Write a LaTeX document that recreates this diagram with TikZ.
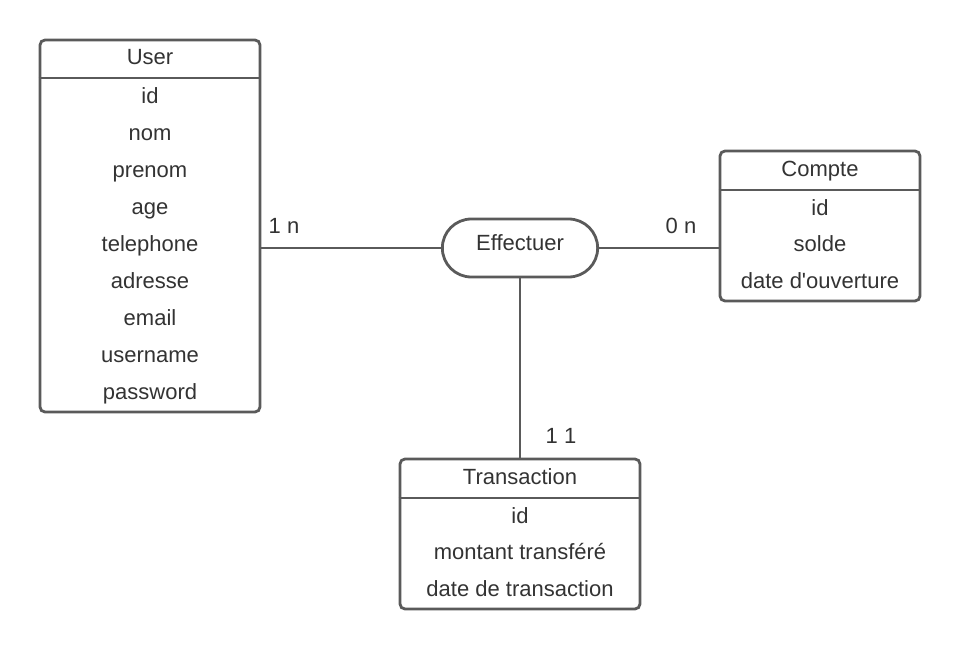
\documentclass[tikz,border=0pt]{standalone}
\usepackage{fontspec}
\setmainfont{Liberation Sans}
\usetikzlibrary{shapes.misc, positioning}
\definecolor{linegray}{HTML}{5A5A5A}
\definecolor{textgray}{HTML}{333333}
\tikzstyle{entity} = [rectangle, rounded corners=5pt, draw=linegray, line width=2.8pt, fill=white]
\tikzstyle{relation} = [rounded rectangle, draw=linegray, line width=2.8pt, fill=white, minimum width=162pt, minimum height=58pt, text=textgray, font=\fontsize{22}{26}\selectfont, text height=15pt, text depth=10pt]
\tikzstyle{attr} = [text=textgray, font=\fontsize{22}{26}\selectfont, inner sep=0pt, text height=16pt, text depth=0pt]
\tikzstyle{link} = [line width=2.8pt, draw=linegray]

\begin{document}
\begin{tikzpicture}[x=1pt, y=-1pt]
\useasboundingbox (0,0) rectangle (960,650);

% links first, boxes on top
\node (eff) [relation] at (520,248) {Effectuer};
\node (user) [entity, minimum width=220pt, minimum height=372pt] at (150,226) {};
\node (compte) [entity, minimum width=200pt, minimum height=150pt] at (820,226) {};
\node (trans) [entity, minimum width=240pt, minimum height=150pt] at (520,534) {};

\draw [link] (user.east |- eff) -- (eff.west);
\draw [link] (eff.east) -- (compte.west |- eff);
\draw [link] (eff.south) -- (trans.north);

% User
\node (user-title) [attr] at (150,57) {User};
\draw [link] (user.west |- 0,78) -- (user.east |- 0,78);
\foreach \name [count=\i] in {id,nom,prenom,age,telephone,adresse,email,username,password}
  \node (user-\i) [attr] at (150,{59.1+36.9*\i}) {\name};

% Compte
\node (compte-title) [attr] at (820,168) {Compte};
\draw [link] (compte.west |- 0,190) -- (compte.east |- 0,190);
\foreach \name [count=\i] in {id,solde,date d\textquotesingle ouverture}
  \node (compte-\i) [attr] at (820,{170.5+36.5*\i}) {\name};

% Transaction
\node (trans-title) [attr] at (520,476) {Transaction};
\draw [link] (trans.west |- 0,498) -- (trans.east |- 0,498);
\foreach \name [count=\i] in {id,montant transféré,date de transaction}
  \node (trans-\i) [attr] at (520,{478.5+36.5*\i}) {\name};

% cardinalities
\node (card-user) [attr] at (284,225) {1 n};
\node (card-compte) [attr] at (681,225) {0 n};
\node (card-trans) [attr] at (561,435) {1 1};

\end{tikzpicture}
\end{document}
